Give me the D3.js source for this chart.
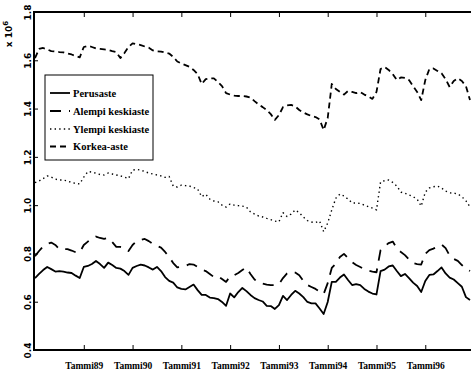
<!DOCTYPE html>
<html><head><meta charset="utf-8">
<script src="https://cdn.jsdelivr.net/npm/d3@7"></script>
<style>html,body{margin:0;padding:0;background:#fff;} svg{display:block;}</style>
</head><body>
<svg id="c" width="471" height="376"></svg>
<script>
// Monthly values (millions), Jan 1988 – Dec 1996
const perusaste = [0.698,0.715,0.731,0.744,0.735,0.725,0.727,0.725,0.721,0.719,0.708,0.698,
0.744,0.748,0.756,0.769,0.756,0.740,0.762,0.752,0.740,0.737,0.727,0.711,
0.740,0.748,0.754,0.750,0.742,0.733,0.744,0.727,0.702,0.686,0.679,0.659,
0.653,0.651,0.661,0.671,0.648,0.628,0.628,0.617,0.615,0.611,0.599,0.583,
0.634,0.618,0.640,0.657,0.644,0.628,0.615,0.607,0.601,0.583,0.582,0.570,
0.586,0.624,0.607,0.628,0.645,0.634,0.619,0.599,0.593,0.593,0.572,0.549,
0.599,0.682,0.682,0.700,0.713,0.690,0.669,0.673,0.669,0.653,0.642,0.634,
0.630,0.727,0.733,0.746,0.750,0.727,0.706,0.715,0.698,0.679,0.665,0.640,
0.686,0.711,0.713,0.727,0.742,0.717,0.700,0.692,0.677,0.662,0.619,0.607];

const alempiKeskiaste = [0.789,0.810,0.829,0.839,0.845,0.835,0.818,0.818,0.818,0.812,0.805,0.804,
0.835,0.849,0.860,0.870,0.864,0.860,0.864,0.847,0.827,0.827,0.824,0.810,
0.835,0.851,0.856,0.860,0.851,0.839,0.831,0.824,0.806,0.785,0.760,0.742,
0.744,0.748,0.756,0.754,0.744,0.733,0.727,0.715,0.702,0.706,0.694,0.682,
0.706,0.710,0.719,0.731,0.742,0.715,0.692,0.679,0.675,0.671,0.669,0.669,
0.673,0.698,0.717,0.725,0.721,0.710,0.686,0.669,0.661,0.653,0.642,0.632,
0.677,0.740,0.758,0.785,0.798,0.781,0.764,0.752,0.744,0.735,0.729,0.725,
0.722,0.814,0.829,0.843,0.849,0.822,0.806,0.793,0.775,0.760,0.756,0.754,
0.798,0.814,0.820,0.829,0.837,0.822,0.791,0.777,0.769,0.752,0.737,0.727];

const ylempiKeskiaste = [1.093,1.100,1.110,1.121,1.116,1.108,1.104,1.104,1.100,1.094,1.090,1.088,
1.116,1.139,1.137,1.132,1.127,1.125,1.133,1.129,1.125,1.121,1.116,1.110,
1.145,1.148,1.145,1.139,1.133,1.129,1.125,1.121,1.115,1.119,1.079,1.075,
1.083,1.081,1.079,1.073,1.067,1.035,1.045,1.025,1.017,1.014,1.000,0.992,
1.005,1.000,0.998,0.996,0.992,0.972,0.963,0.955,0.951,0.945,0.940,0.934,
0.931,0.969,0.953,0.963,0.980,0.969,0.951,0.936,0.930,0.928,0.934,0.890,
0.926,0.980,1.029,1.046,1.038,1.025,1.009,1.009,1.007,1.000,0.994,0.988,
0.980,1.096,1.101,1.104,1.094,1.079,1.054,1.049,1.042,1.035,1.025,0.996,
1.054,1.071,1.076,1.079,1.071,1.058,1.051,1.050,1.046,1.035,1.018,0.993];

const korkeaAste = [1.609,1.647,1.651,1.645,1.638,1.636,1.634,1.633,1.628,1.624,1.618,1.612,
1.655,1.660,1.655,1.649,1.647,1.645,1.643,1.638,1.634,1.609,1.630,1.655,
1.670,1.667,1.663,1.657,1.652,1.641,1.637,1.636,1.632,1.628,1.614,1.595,
1.587,1.580,1.573,1.560,1.543,1.502,1.522,1.525,1.525,1.510,1.493,1.464,
1.458,1.454,1.452,1.452,1.450,1.446,1.431,1.417,1.406,1.394,1.377,1.353,
1.373,1.406,1.413,1.415,1.409,1.394,1.384,1.376,1.369,1.365,1.355,1.311,
1.361,1.502,1.481,1.469,1.458,1.473,1.469,1.464,1.469,1.458,1.450,1.440,
1.469,1.564,1.572,1.560,1.543,1.518,1.529,1.527,1.518,1.493,1.469,1.435,
1.518,1.564,1.566,1.556,1.546,1.522,1.489,1.514,1.525,1.514,1.493,1.435];

const seriesNames = ["Perusaste", "Alempi keskiaste", "Ylempi keskiaste", "Korkea-aste"];
const xTickMonths = [12, 24, 36, 48, 60, 72, 84, 96];
const xTickLabels = ["Tammi89", "Tammi90", "Tammi91", "Tammi92", "Tammi93", "Tammi94", "Tammi95", "Tammi96"];
const yTicks = [0.4, 0.6, 0.8, 1.0, 1.2, 1.4, 1.6, 1.8];

const seriesData = [perusaste, alempiKeskiaste, ylempiKeskiaste, korkeaAste];
const styles = [
  {dash: null, w: 1.8},
  {dash: "11,8", w: 1.8},
  {dash: "1.4,3.2", w: 1.4},
  {dash: "6,4", w: 1.8}
];

const svg = d3.select("#c");
svg.append("rect").attr("width", 471).attr("height", 376).attr("fill", "#fff");

const L = 34, T = 12, B = 350, R = 471;
const x = d3.scaleLinear().domain([0, 107]).range([35, 470]);
const y = d3.scaleLinear().domain([0.4, 1.8]).range([B, T]);

// lines
const line = d3.line().x((d, i) => x(i)).y(d => y(d));
seriesData.forEach((s, k) => {
  svg.append("path").datum(s).attr("d", line)
    .attr("fill", "none").attr("stroke", "#000")
    .attr("stroke-width", styles[k].w)
    .attr("stroke-linejoin", "round")
    .attr("stroke-dasharray", styles[k].dash);
});

// frame
svg.append("path").attr("d", `M${R},${T}H${L}V${B}H${R}`)
  .attr("fill", "none").attr("stroke", "#000").attr("stroke-width", 2);

// bottom axis
const gx = svg.append("g").attr("transform", `translate(0,${B})`)
  .call(d3.axisBottom(x).tickValues(xTickMonths).tickFormat((d, i) => xTickLabels[i])
    .tickSizeInner(-5).tickSizeOuter(0).tickPadding(12));
gx.select(".domain").remove();
gx.selectAll("text").attr("font-family", "Liberation Serif").attr("font-weight", "bold").attr("font-size", 9.5);

// top axis
const gt = svg.append("g").attr("transform", `translate(0,${T})`)
  .call(d3.axisTop(x).tickValues(xTickMonths).tickFormat("").tickSizeInner(-5).tickSizeOuter(0));
gt.select(".domain").remove();

// left axis
const gy = svg.append("g").attr("transform", `translate(${L},0)`)
  .call(d3.axisLeft(y).tickValues(yTicks).tickFormat(d3.format(".1f")).tickSizeInner(-4).tickSizeOuter(0));
gy.select(".domain").remove();
gy.selectAll("text")
  .attr("transform", "rotate(-90)")
  .attr("x", 0).attr("y", -3).attr("dy", 0)
  .attr("text-anchor", "middle")
  .attr("font-family", "DejaVu Sans").attr("font-weight", "bold").attr("font-size", 9);

// multiplier
const mult = svg.append("text").attr("transform", "translate(12,34) rotate(-90)")
  .attr("text-anchor", "middle").attr("font-family", "DejaVu Sans").attr("font-weight", "bold").attr("font-size", 9);
mult.append("tspan").text("x 10");
mult.append("tspan").attr("dy", -4).attr("font-size", 7).text("6");

// legend
const lg = svg.append("g");
lg.append("rect").attr("x", 45).attr("y", 75).attr("width", 108).attr("height", 85)
  .attr("fill", "#fff").attr("stroke", "#000").attr("stroke-width", 1);
const ly = [93, 111, 129, 146.5];
seriesNames.forEach((n, k) => {
  lg.append("line").attr("x1", 50).attr("x2", 70).attr("y1", ly[k]).attr("y2", ly[k])
    .attr("stroke", "#000").attr("stroke-width", styles[k].w)
    .attr("stroke-dasharray", styles[k].dash);
  lg.append("text").attr("x", 73).attr("y", ly[k] + 3.5).text(n)
    .attr("font-family", "Liberation Serif").attr("font-weight", "bold").attr("font-size", 10.5);
});
</script>
</body></html>
